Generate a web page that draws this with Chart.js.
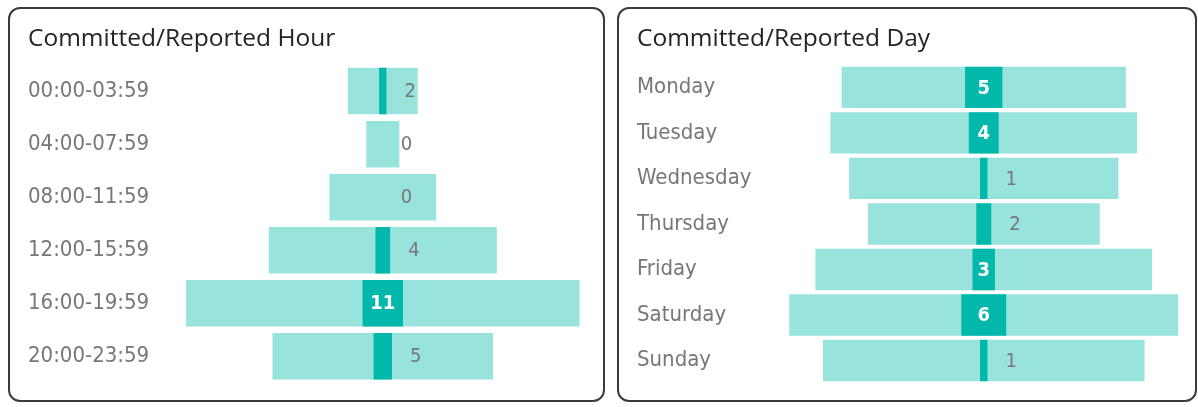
<!DOCTYPE html>
<html>
<head>
<meta charset="utf-8">
<title>Committed/Reported</title>
<script src="https://cdn.jsdelivr.net/npm/chart.js@4.4.1/dist/chart.umd.min.js"></script>
<style>
	body { margin: 0; background: #fff; width: 1198px; height: 407px; overflow: hidden; position: relative; }
	.card { position: absolute; top: 7px; height: 391px; border: 2px solid #3b3b3b; border-radius: 12px; background: #fff; }
	#cardHour { left: 8px; width: 593px; }
	#cardDay { left: 617px; width: 576px; }
	.card canvas { display: block; }
</style>
</head>
<body>
<div class="card" id="cardHour"><canvas id="hourChart" width="593" height="391"></canvas></div>
<div class="card" id="cardDay"><canvas id="dayChart" width="576" height="391"></canvas></div>
<script>
var hourLabels = ['00:00-03:59', '04:00-07:59', '08:00-11:59', '12:00-15:59', '16:00-19:59', '20:00-23:59'];
var hourReported = [2, 0, 0, 4, 11, 5];
var hourCommitted = [19, 9, 29, 62, 107, 60];

var dayLabels = ['Monday', 'Tuesday', 'Wednesday', 'Thursday', 'Friday', 'Saturday', 'Sunday'];
var dayReported = [5, 4, 1, 2, 3, 6, 1];
var dayCommitted = [38, 41, 36, 31, 45, 52, 43];

var labelFont = "'DejaVu Sans Condensed', 'DejaVu Sans', sans-serif";
var titleFont = "'Segoe UI', 'Open Sans', sans-serif";

// each bar sits around zero, so it grows out from the middle
function centred(values)
{
	return values.map(function (v) { return [-v / 2, v / 2]; });
}

// count labels: white inside the dark bar when it fits, grey beside it otherwise
var valueLabels = {
	id: 'valueLabels',
	afterDatasetsDraw: function (chart)
	{
		var ctx = chart.ctx;
		var ds = chart.data.datasets[0];
		var meta = chart.getDatasetMeta(0);
		ctx.save();
		ctx.textBaseline = 'middle';
		meta.data.forEach(function (bar, i) {
			var v = ds.data[i][1] - ds.data[i][0];
			var text = String(v);
			var left = Math.min(bar.x, bar.base);
			var right = Math.max(bar.x, bar.base);
			ctx.font = 'bold 20px ' + labelFont;
			var w = ctx.measureText(text).width;
			if (right - left > w + 8) {
				ctx.fillStyle = '#ffffff';
				ctx.textAlign = 'center';
				ctx.fillText(text, (left + right) / 2, bar.y + 1);
			} else {
				ctx.font = '20px ' + labelFont;
				ctx.fillStyle = '#777777';
				ctx.textAlign = 'left';
				ctx.fillText(text, right + 18, bar.y + 1);
			}
		});
		ctx.restore();
	}
};

function makeChart(id, title, labels, reported, committed, range, axisWidth, padRight, padBottom, barPct)
{
	return new Chart(document.getElementById(id), {
		type: 'bar',
		data: {
			labels: labels,
			datasets: [
				{
					label: 'Reported',
					data: centred(reported),
					backgroundColor: '#01B8AA',
					barPercentage: barPct,
					categoryPercentage: 1
				},
				{
					label: 'Committed',
					data: centred(committed),
					backgroundColor: '#99E3DD',
					barPercentage: barPct,
					categoryPercentage: 1
				}
			]
		},
		options: {
			responsive: false,
			animation: false,
			indexAxis: 'y',
			datasets: { bar: { grouped: false, borderWidth: 0 } },
			layout: { padding: { left: 18, right: padRight, top: 0, bottom: padBottom } },
			plugins: {
				legend: { display: false },
				tooltip: { enabled: false },
				title: {
					display: true,
					text: title,
					align: 'start',
					color: '#252423',
					font: { family: titleFont, size: 24.5, weight: 'normal', lineHeight: 1.2 },
					padding: { top: 15, bottom: 11.2 }
				}
			},
			scales: {
				x: { display: false, min: -range, max: range },
				y: {
					grid: { display: false },
					border: { display: false },
					ticks: {
						crossAlign: 'far',
						padding: 0,
						color: '#777777',
						font: { family: labelFont, size: 22 }
					},
					afterFit: function (scale) { scale.width = axisWidth; }
				}
			}
		},
		plugins: [valueLabels]
	});
}

makeChart('hourChart', 'Committed/Reported Hour', hourLabels, hourReported, hourCommitted, 58, 141.5, 6.9, 17.25, 0.877);
makeChart('dayChart', 'Committed/Reported Day', dayLabels, dayReported, dayCommitted, 28, 137.3, 1.8, 16.75, 0.91);
</script>
</body>
</html>
